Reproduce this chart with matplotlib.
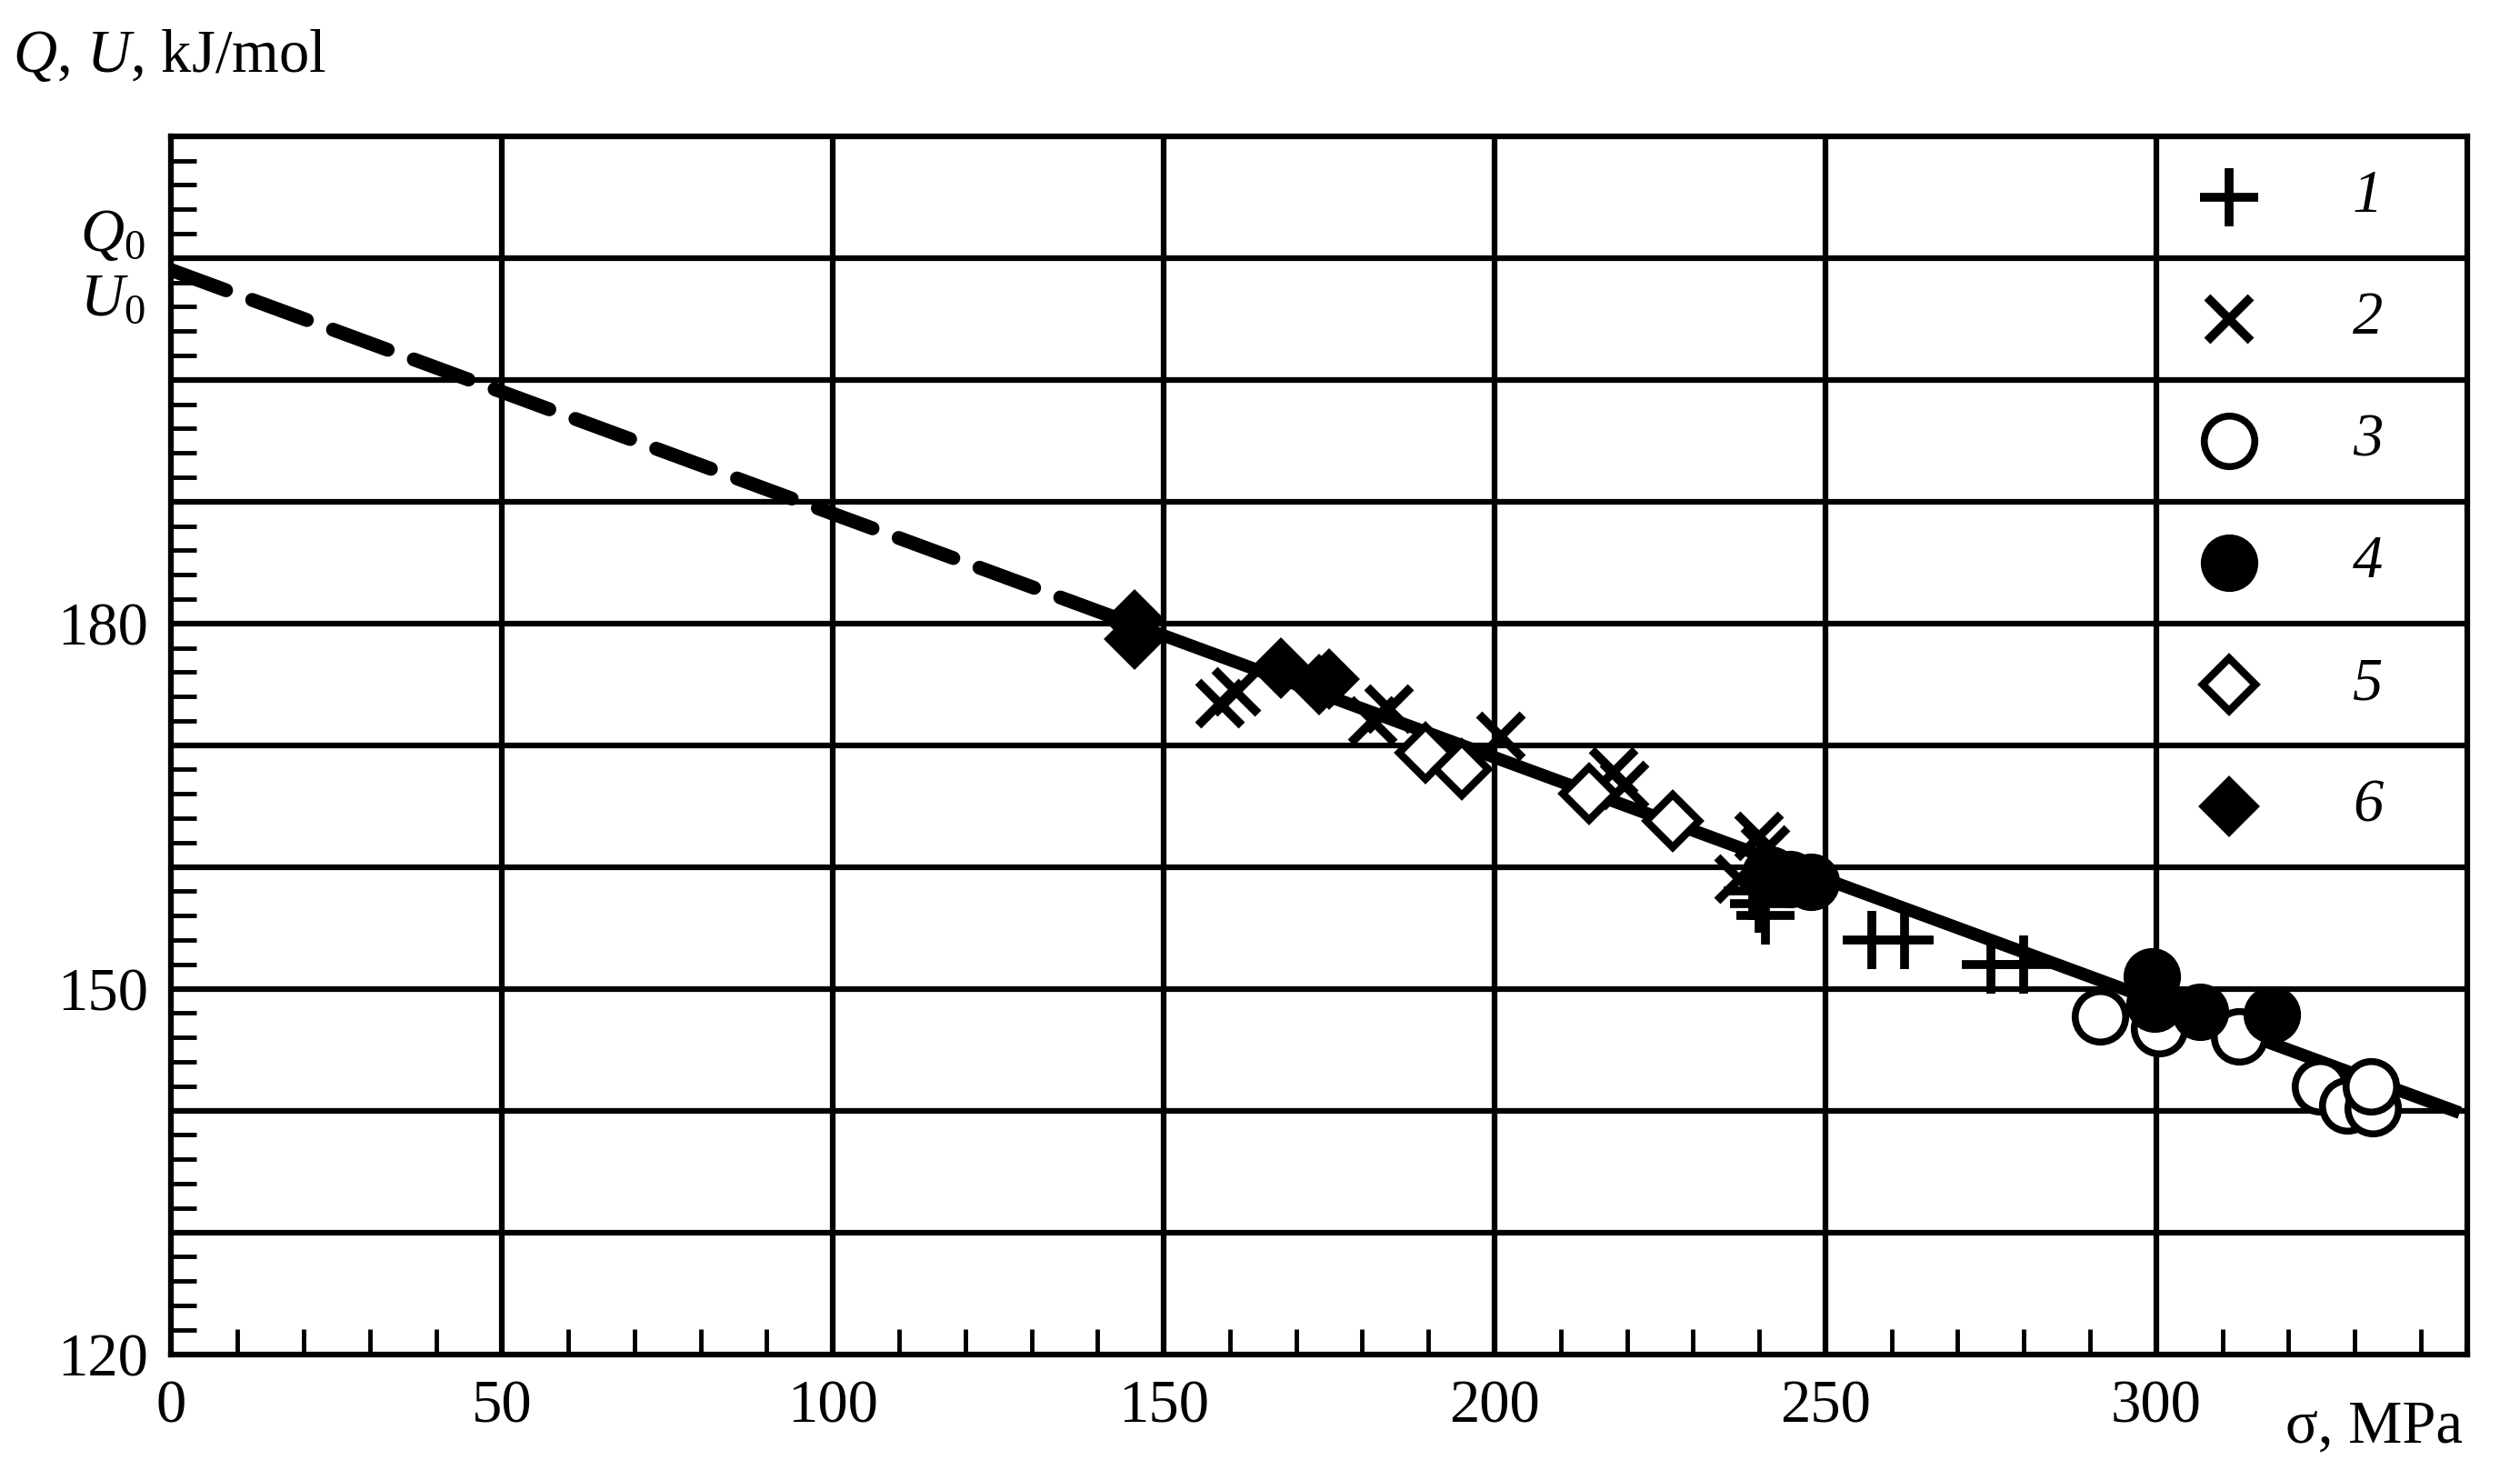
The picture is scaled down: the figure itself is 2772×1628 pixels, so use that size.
import numpy as np
import matplotlib
matplotlib.use("Agg")
import matplotlib.pyplot as plt

plt.rcParams['font.family'] = ['Liberation Serif', 'DejaVu Serif']
plt.rcParams['mathtext.fontset'] = 'custom'
plt.rcParams['mathtext.rm'] = 'Liberation Serif'
plt.rcParams['mathtext.it'] = 'Liberation Serif:italic'

# data (sigma MPa, Q kJ/mol)
s1 = [240, 241, 239, 257, 262, 275, 280]
q1 = [157, 156, 158, 154, 154, 152, 152]
s2 = [158.5, 161, 181.6, 184, 201, 218, 219.6, 240, 241, 237]
q2 = [173.4, 174.4, 172, 173, 170.7, 167.8, 166.7, 162.5, 161.4, 159]
s3 = [291.5, 300.5, 312.6, 324.8, 328.9, 332.8, 332.5]
q3 = [147.7, 146.8, 146.1, 142, 140.4, 140.2, 142]
s4 = [241.7, 244.7, 247.8, 299.3, 299.8, 306.6, 317.5]
q4 = [159.4, 159, 158.8, 151, 148.8, 148.1, 147.9]
s5 = [189.6, 195, 214.3, 226.9]
q5 = [169.4, 168, 166, 163.8]
s6 = [145.6, 145.6, 167.7, 173.5, 175]
q6 = [180.3, 178.7, 176.3, 175, 175.4]

# fitted line: Q = Q0 - k*sigma
Q0 = 209
k = 0.2
sigma_fit_dash = [0, 145]
sigma_fit_solid = [145, 345]

labels = ['1', '2', '3', '4', '5', '6']

fig = plt.figure(figsize=(27.72, 16.28), dpi=100)
ax = fig.add_axes([0.068, 0.085, 0.911, 0.823])
ax.set_xlim(0, 347)
ax.set_ylim(120, 220)

for v in range(50, 347, 50):
    ax.axvline(v, color='black', lw=4.5, zorder=1)
for v in range(130, 220, 10):
    ax.axhline(v, color='black', lw=4.5, zorder=1)

xd = np.array(sigma_fit_dash)
xs = np.array(sigma_fit_solid)
ax.plot(xd, Q0 - k * xd, color='black', lw=11, ls=(0, (4.2, 2.0)),
        dash_capstyle='round', zorder=2)
ax.plot(xs, Q0 - k * xs, color='black', lw=10, zorder=2)

styles = [
    dict(marker='+', ms=46, mew=7, color='black', ls='none'),
    dict(marker='x', ms=34, mew=7, color='black', ls='none'),
    dict(marker='o', ms=40, mew=5.5, mfc='white', mec='black', ls='none'),
    dict(marker='o', ms=40, mew=5.5, mfc='black', mec='black', ls='none'),
    dict(marker='D', ms=30, mew=6, mfc='white', mec='black', ls='none'),
    dict(marker='D', ms=32, mew=3, mfc='black', mec='black', ls='none'),
]
series = [(s1, q1), (s2, q2), (s3, q3), (s4, q4), (s5, q5), (s6, q6)]
for (sx, sy), st in zip(series, styles):
    ax.plot(sx, sy, zorder=3, **st)

# legend drawn as table in the upper-right grid cells
for i, (lab, st) in enumerate(zip(labels, styles)):
    yc = 215 - 10 * i
    ax.plot([311], [yc], zorder=3, **st)
    ax.text(332, yc, lab, fontsize=48, style='italic', ha='center', va='center')

for sp in ax.spines.values():
    sp.set_linewidth(4.5)

ax.set_xticks([0, 50, 100, 150, 200, 250, 300])
ax.set_xticks(np.arange(10, 347, 10), minor=True)
ax.set_yticks([120, 150, 180])
ax.set_yticks(np.arange(122, 220, 2), minor=True)
ax.tick_params(axis='both', which='both', direction='in', labelsize=48)
ax.tick_params(axis='x', which='major', length=0, pad=20)
ax.tick_params(axis='y', which='major', length=0, pad=18)
ax.tick_params(axis='both', which='minor', length=20, width=3.5)
ax.tick_params(top=False, right=False, which='both')

ax.text(-4, 211.8, r'$Q_0$', fontsize=48, ha='right', va='center', clip_on=False)
ax.text(-4, 206.5, r'$U_0$', fontsize=48, ha='right', va='center', clip_on=False)

fig.text(0.005, 0.962, r'$Q$, $U$, kJ/mol', fontsize=48, ha='left', va='center')
ax.text(333, 116.3, 'σ, MPa', fontsize=48, ha='center', va='top', clip_on=False)

fig.savefig('out.png', dpi=100, facecolor='white')
